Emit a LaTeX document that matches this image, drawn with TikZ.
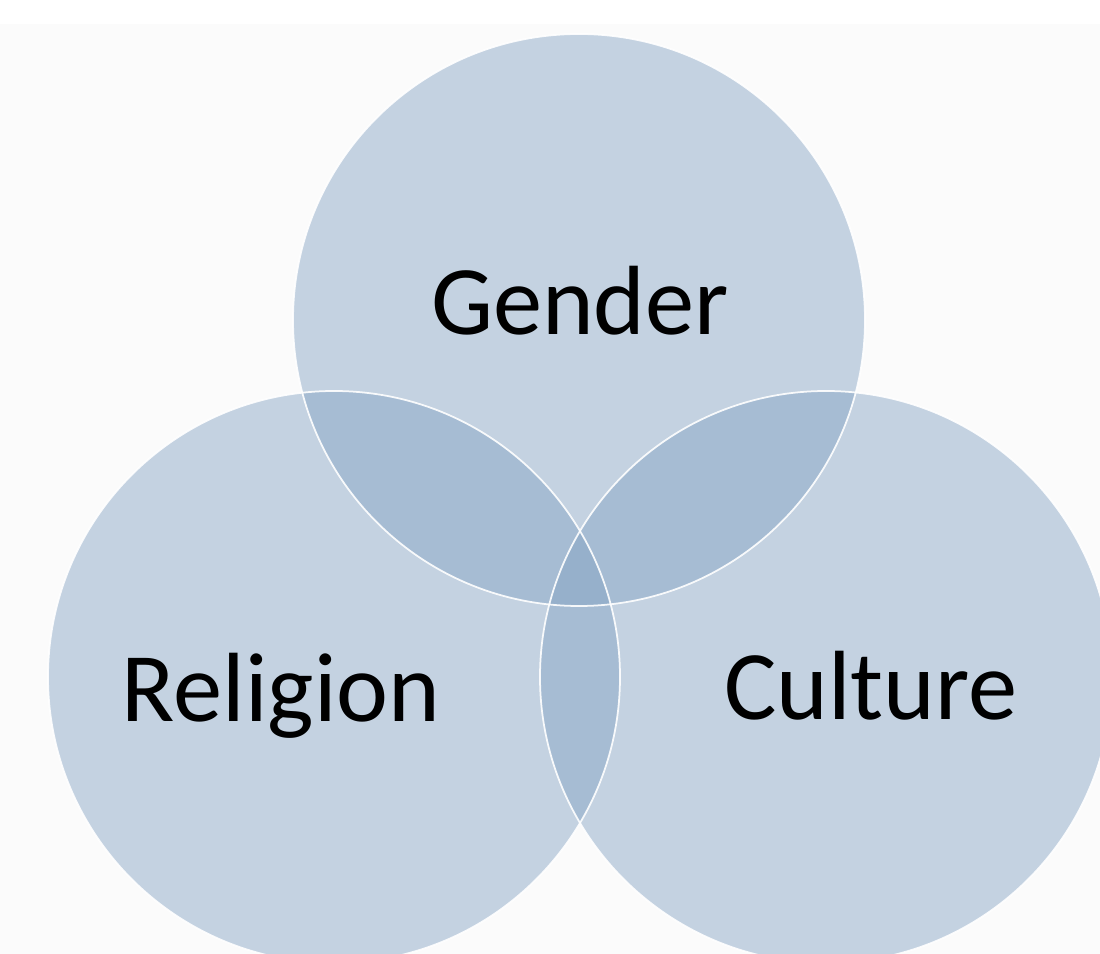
\documentclass[tikz,border=0pt]{standalone}
\usepackage{fontspec}
\setmainfont{Carlito}
\usepackage{tikz}
\definecolor{paper}{HTML}{FBFBFB}
\definecolor{setblue}{HTML}{83A2C3}
\tikzset{
  set/.style={fill=setblue, fill opacity=0.45},
  rim/.style={draw=white, line width=1pt, draw opacity=0.9},
  lab/.style={text=black, font=\fontsize{56}{60}\selectfont, anchor=base, inner sep=0pt},
}

\begin{document}
\begin{tikzpicture}[x=0.02cm, y=0.02cm]
  \useasboundingbox (0,0) rectangle (1100,954);
  \clip (0,0) rectangle (1100,954);
  \fill[paper] (0,0) rectangle (1100,930);
  \coordinate (G) at (579,634);
  \coordinate (R) at (334,277);
  \coordinate (C) at (826,277);
  \fill[set] (G) circle (286);
  \fill[set] (R) circle (286);
  \fill[set] (C) circle (286);
  \draw[rim] (G) circle (286);
  \draw[rim] (C) circle (286);
  \draw[rim] (R) circle (286);
  \node[lab] (gender) at (580,619) {Gender};
  \node[lab] (religion) at (281,232) {Religion};
  \node[lab] (culture) at (871,234) {Culture};
\end{tikzpicture}
\end{document}
